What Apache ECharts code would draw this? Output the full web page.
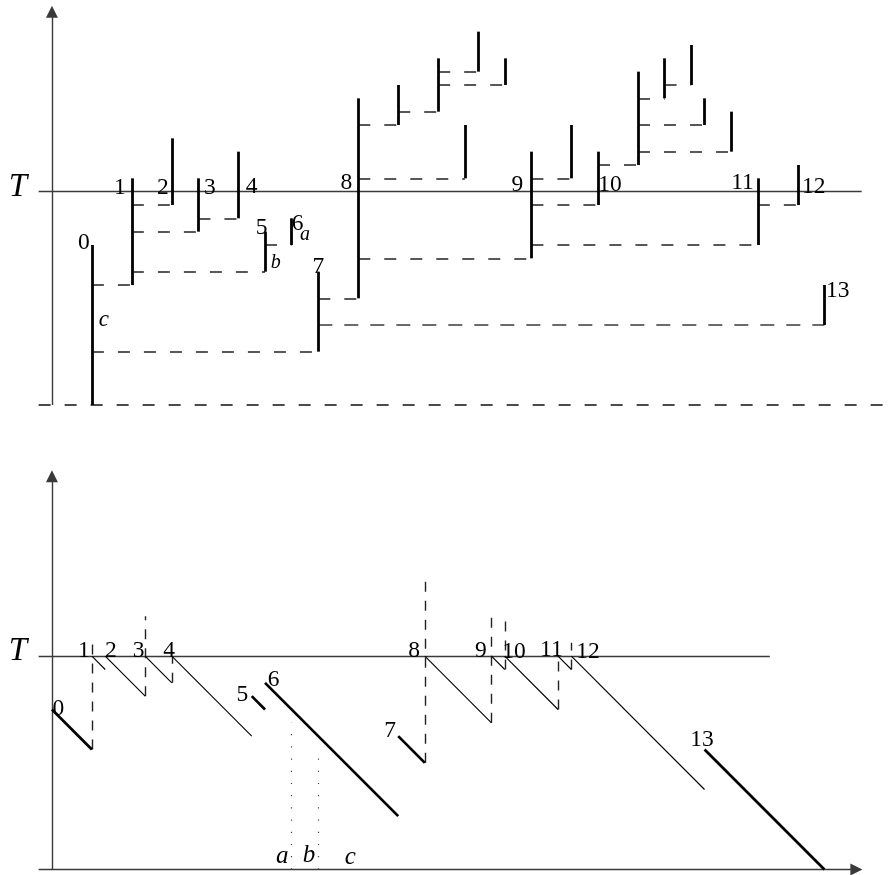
<!DOCTYPE html>
<html><head><meta charset="utf-8">
<script src="https://cdn.jsdelivr.net/npm/echarts@6/dist/echarts.min.js"></script>
<style>html,body{margin:0;padding:0;background:#fff}#c{width:891px;height:875px}</style>
</head><body><div id="c"></div>
<script>
// ---------- shared ----------
const T_LEVEL = 16;
const X_MIN = -3.5, X_MAX = 63, Y_MIN = 0, Y_MAX = 30;

// ---------- top panel data ----------
const topAxisTop = 29.5;
const topTLineFrom = -1, topTLineTo = 60.8;
const topBaseFrom = -1, topBaseTo = 63;

const topBarX    = [3, 6, 9, 11, 14, 16, 18, 20, 23, 26, 29, 31, 32, 34, 36, 39, 41, 44, 46, 48, 49, 51, 53, 56, 58];
const topBarLow  = [0, 9, 15, 13, 14, 10, 12, 4, 8, 21, 22, 17, 25, 24, 11, 17, 15, 18, 23, 24, 21, 19, 12, 15, 6];
const topBarHigh = [12, 17, 20, 17, 19, 13, 14, 10, 23, 24, 26, 21, 28, 26, 19, 21, 19, 25, 26, 27, 23, 22, 17, 18, 9];

const topDashY    = [9, 15, 13, 14, 10, 12, 4, 8, 17, 21, 22, 25, 24, 11, 17, 15, 12, 18, 23, 24, 21, 19, 15];
const topDashFrom = [3, 6, 6, 11, 6, 16, 3, 20, 23, 23, 26, 29, 29, 23, 36, 36, 36, 41, 44, 46, 44, 44, 53];
const topDashTo   = [6, 9, 11, 14, 16, 18, 20, 23, 31, 26, 29, 32, 34, 36, 39, 41, 53, 44, 46, 48, 49, 51, 56];

const topGreyDashY = [6], topGreyDashFrom = [20], topGreyDashTo = [58];

const topNumLabels = ['0','1','2','3','4','5','6','7','8','9','10','11','12','13'];
const topNumX = [2.4, 5.1, 8.33, 11.85, 15.0, 15.75, 18.45, 20.0, 22.1, 34.95, 41.9, 51.85, 57.2, 59.0];
const topNumY = [12.15, 16.3, 16.3, 16.3, 16.35, 13.3, 13.6, 10.4, 16.7, 16.5, 16.5, 16.65, 16.4, 8.6];

const topLetters = ['a', 'b', 'c'];
const topLetterX = [19.0, 16.8, 3.9];
const topLetterY = [12.8, 10.65, 6.4];

// ---------- bottom panel data ----------
const botAxisTop = 29.5;
const botXAxisFrom = -1, botXAxisTo = 60.4;
const botTLineFrom = -1, botTLineTo = 53.9;

const botSegX1 = [0, 3, 4, 7, 9, 15, 16, 26, 28, 33, 34, 38, 39, 49];
const botSegY1 = [12, 16, 16, 16, 16, 13, 14, 10, 16, 16, 16, 16, 16, 9];
const botSegX2 = [3, 4, 7, 9, 15, 16, 26, 28, 33, 34, 38, 39, 49, 58];
const botSegY2 = [9, 15, 13, 14, 10, 12, 4, 8, 11, 15, 12, 15, 6, 0];

const botDashX    = [3, 7, 9, 28, 33, 34, 38, 39];
const botDashLow  = [9, 13, 14, 8, 11, 15, 12, 15];
const botDashHigh = [17, 19, 16, 22, 19, 19, 16, 17];

const botDotX = [18, 20];
const botDotHigh = [11, 9];

const botNumLabels = ['0','1','2','3','4','5','6','7','8','9','10','11','12','13'];
const botNumX = [0.49, 2.4, 4.43, 6.5, 8.8, 14.3, 16.65, 25.4, 27.2, 32.2, 34.7, 37.5, 40.25, 48.8];
const botNumY = [12.04, 16.4, 16.4, 16.4, 16.4, 13.1, 14.2, 10.4, 16.4, 16.4, 16.3, 16.5, 16.35, 9.75];

const botLetters = ['a', 'b', 'c'];
const botLetterX = [17.3, 19.3, 22.4];
const botLetterY = [0.98, 1.05, 0.9];

const tLabelX = -2.55, tLabelY = 16.35;

// ---------- styles ----------
const heavyBotSegments = [0, 5, 6, 7, 13];
const topLetterSize = {a: 20, b: 20, c: 23};
const SERIF = '"Liberation Serif", "DejaVu Serif", serif';
const INK = '#000';
const NUM_SIZE = 23.5;

function seg(x1, y1, x2, y2, style) {
  return {coords: [[x1, y1], [x2, y2]], lineStyle: Object.assign({opacity: 1, curveness: 0}, style)};
}
function linesSeries(gi, data, extra) {
  return Object.assign({
    type: 'lines', coordinateSystem: 'cartesian2d',
    xAxisIndex: gi, yAxisIndex: gi, polyline: false, silent: true,
    symbol: ['none', 'none'], clip: false, data: data, z: 2,
    lineStyle: {opacity: 1}
  }, extra || {});
}
function labelSeries(gi, names, xs, ys, labelStyle, perItem) {
  return {
    type: 'scatter', xAxisIndex: gi, yAxisIndex: gi, symbolSize: 0, silent: true, clip: false, z: 5,
    itemStyle: {opacity: 1},
    data: names.map((n, i) => {
      const d = {name: n, value: [xs[i], ys[i]]};
      if (perItem) d.label = perItem(n);
      return d;
    }),
    label: Object.assign({
      show: true, position: [0, 0], align: 'center', verticalAlign: 'middle',
      formatter: '{b}', color: INK, opacity: 1, fontFamily: SERIF, fontSize: NUM_SIZE
    }, labelStyle)
  };
}

const series = [];

// top panel: axis, T line, base
const axisStyle = {color: '#3a3a3a', width: 1.4, type: 'solid'};
const arrowOpts = {symbol: ['none', 'triangle'], symbolSize: [8, 12], itemStyle: {color: '#222', opacity: 1}};
series.push(linesSeries(0, [seg(0, 0, 0, topAxisTop, axisStyle)], arrowOpts));
series.push(linesSeries(0, [
  seg(topTLineFrom, T_LEVEL, topTLineTo, T_LEVEL, {color: '#3a3a3a', width: 1.4, type: 'solid'}),
  seg(topBaseFrom, 0, topBaseTo, 0, {color: '#111', width: 1.6, type: [12, 14]})
]));
// top dashed
series.push(linesSeries(0, topDashY.map((y, i) =>
  seg(topDashFrom[i], y, topDashTo[i], y, {color: '#222', width: 1.6, type: [12, 14]}))));
series.push(linesSeries(0, topGreyDashY.map((y, i) =>
  seg(topGreyDashFrom[i], y, topGreyDashTo[i], y, {color: '#6a6a6a', width: 1.9, type: [14, 12]}))));
// top bars
series.push(linesSeries(0, topBarX.map((x, i) =>
  seg(x, topBarLow[i], x, topBarHigh[i], {color: INK, width: 2.8, type: 'solid'})), {z: 3}));

// top labels
series.push(labelSeries(0, topNumLabels, topNumX, topNumY, {}));
series.push(labelSeries(0, topLetters, topLetterX, topLetterY, {fontStyle: 'italic'},
  n => ({fontSize: topLetterSize[n]})));
series.push(labelSeries(0, ['T'], [tLabelX], [tLabelY], {fontStyle: 'italic', fontSize: 33}));

// bottom panel: axes and T line
series.push(linesSeries(1, [seg(0, 0, 0, botAxisTop, axisStyle)], arrowOpts));
series.push(linesSeries(1, [seg(botXAxisFrom, 0, botXAxisTo, 0, axisStyle)], arrowOpts));
series.push(linesSeries(1, [seg(botTLineFrom, T_LEVEL, botTLineTo, T_LEVEL, {color: '#3a3a3a', width: 1.4, type: 'solid'})]));
// bottom dashed verticals
series.push(linesSeries(1, botDashX.map((x, i) =>
  seg(x, botDashLow[i], x, botDashHigh[i], {color: '#222', width: 1.4, type: [10, 9]}))));
// bottom dotted verticals
series.push(linesSeries(1, botDotX.map((x, i) =>
  seg(x, 0, x, botDotHigh[i], {color: '#444', width: 1.2, type: [1.2, 11]}))));
// bottom segments
series.push(linesSeries(1, botSegX1.map((x, i) => {
  const heavy = heavyBotSegments.indexOf(i) >= 0;
  return seg(x, botSegY1[i], botSegX2[i], botSegY2[i], {color: INK, width: heavy ? 2.7 : 1.1, type: 'solid'});
}), {z: 3}));
// bottom labels
series.push(labelSeries(1, botNumLabels, botNumX, botNumY, {}));
series.push(labelSeries(1, botLetters, botLetterX, botLetterY, {fontStyle: 'italic', fontSize: 25}));
series.push(labelSeries(1, ['T'], [tLabelX], [tLabelY], {fontStyle: 'italic', fontSize: 33}));

const unit = 40 / 3;
const gridLeft = 52 + X_MIN * unit;
const gridWidth = (X_MAX - X_MIN) * unit;
const gridHeight = (Y_MAX - Y_MIN) * unit;

const chart = echarts.init(document.getElementById('c'), null, {renderer: 'canvas'});
chart.setOption({
  animation: false,
  backgroundColor: '#fff',
  grid: [
    {left: gridLeft, top: 5, width: gridWidth, height: gridHeight},
    {left: gridLeft, top: 469.5, width: gridWidth, height: gridHeight}
  ],
  xAxis: [
    {gridIndex: 0, type: 'value', min: X_MIN, max: X_MAX, show: false},
    {gridIndex: 1, type: 'value', min: X_MIN, max: X_MAX, show: false}
  ],
  yAxis: [
    {gridIndex: 0, type: 'value', min: Y_MIN, max: Y_MAX, show: false},
    {gridIndex: 1, type: 'value', min: Y_MIN, max: Y_MAX, show: false}
  ],
  series: series
});
</script>
</body></html>
